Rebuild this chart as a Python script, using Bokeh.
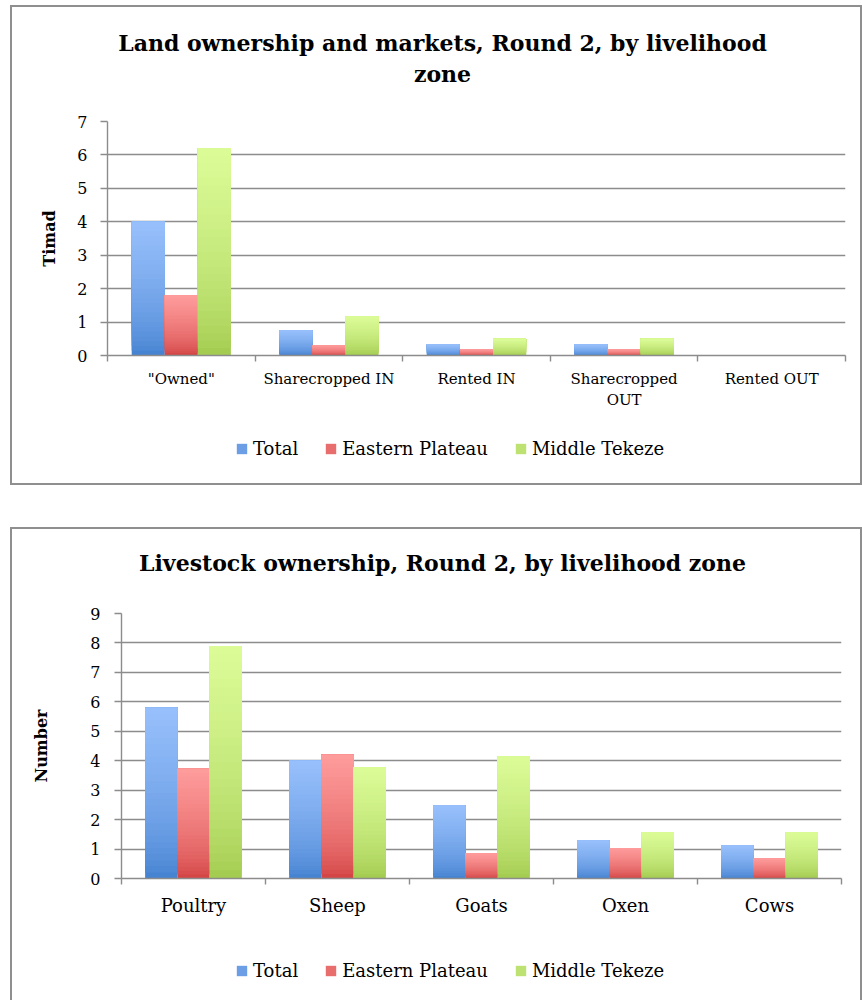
from bokeh.plotting import figure
from bokeh.models import (ColumnDataSource, FixedTicker, Legend, LegendItem, Label, Range1d)
from bokeh.embed import file_html
from bokeh.resources import INLINE

# ---------------- data ----------------
series_names = ["Total", "Eastern Plateau", "Middle Tekeze"]

land_title = ["Land ownership and markets, Round 2, by livelihood", "zone"]
land_ylabel = "Timad"
land_categories = ['"Owned"', "Sharecropped IN", "Rented IN", "Sharecropped\nOUT", "Rented OUT"]
land_total = [4.0, 0.75, 0.33, 0.33, 0.0]
land_eastern = [1.8, 0.3, 0.18, 0.18, 0.0]
land_middle = [6.2, 1.17, 0.5, 0.5, 0.0]
land_yticks = [0, 1, 2, 3, 4, 5, 6, 7]

stock_title = ["Livestock ownership, Round 2, by livelihood zone"]
stock_ylabel = "Number"
stock_categories = ["Poultry", "Sheep", "Goats", "Oxen", "Cows"]
stock_total = [5.8, 4.0, 2.48, 1.29, 1.12]
stock_eastern = [3.73, 4.2, 0.85, 1.04, 0.68]
stock_middle = [7.9, 3.77, 4.14, 1.56, 1.56]
stock_yticks = [0, 1, 2, 3, 4, 5, 6, 7, 8, 9]

# gradient colours (top, bottom) per series
grad_top = [(152, 192, 252), (255, 156, 156), (220, 252, 152)]
grad_bottom = [(62, 125, 205), (208, 62, 62), (158, 199, 74)]

FONT = "DejaVu Serif"
GRID = "#8c8c8c"
EDGE = "2px solid #8f8f8f"
K = 28  # gradient slices per bar
W = 852


def hexc(c):
    return "#%02x%02x%02x" % tuple(int(round(v)) for v in c)


def blank(h, styles):
    p = figure(width=W, height=h, output_backend="svg", toolbar_location=None,
               x_range=Range1d(0, 1), y_range=Range1d(0, 1),
               x_axis_type=None, y_axis_type=None,
               min_border=0, min_border_left=0, min_border_right=0,
               min_border_top=0, min_border_bottom=0,
               outline_line_color=None, background_fill_color="white",
               border_fill_color="white", styles=styles)
    p.grid.visible = False
    return p


def header(lines, h, baselines, cx, top_margin):
    p = blank(h, {"border": EDGE, "border-bottom": "none"})
    for line, y in zip(lines, baselines):
        p.add_layout(Label(x=cx, y=y, x_units="screen", y_units="screen", text=line,
                           text_align="center", text_baseline="alphabetic",
                           text_font=FONT, text_font_style="bold",
                           text_font_size="22px", text_color="black"))
    p.margin = (top_margin, 0, 0, 10)
    return p


def footer(h, loc, bottom_edge=True):
    styles = {"border": EDGE, "border-top": "none"}
    if not bottom_edge:
        styles = {"border-left": EDGE, "border-right": EDGE}
    p = blank(h, styles)
    items = []
    for s, name in enumerate(series_names):
        mid = [(a + b) / 2 for a, b in zip(grad_top[s], grad_bottom[s])]
        # zero-size placeholder renderer that only supplies the legend swatch colour
        r = p.vbar(x=[0], top=[0], bottom=[0], width=0, fill_color=hexc(mid), line_color=None)
        items.append(LegendItem(label=name, renderers=[r]))
    legend = Legend(items=items, orientation="horizontal", location=loc,
                    border_line_color=None, background_fill_alpha=0, padding=0,
                    margin=0, spacing=26, glyph_width=13, glyph_height=13,
                    label_standoff=5, label_text_font=FONT,
                    label_text_font_size="18px", label_text_color="black")
    p.add_layout(legend, "center")
    p.margin = (0, 0, 0, 10)
    return p


def chart(ylabel, cats, vals, yticks, h, bl, br, bt, bb, ylab_standoff,
          tick_standoff, cat_standoff, cat_size):
    n = len(cats)
    p = figure(width=W, height=h, output_backend="svg", toolbar_location=None,
               x_range=Range1d(0, n), y_range=Range1d(yticks[0], yticks[-1]),
               min_border_left=bl, min_border_right=br, min_border_top=bt,
               min_border_bottom=bb, outline_line_color=None,
               background_fill_color="white", border_fill_color="white",
               styles={"border-left": EDGE, "border-right": EDGE})
    p.margin = (0, 0, 0, 10)
    p.xgrid.visible = False
    p.ygrid.grid_line_color = GRID
    p.ygrid.grid_line_width = 1.4
    p.ygrid.ticker = FixedTicker(ticks=yticks)

    bw = 0.224
    offs = [-bw, 0.0, bw]
    for s, v in enumerate(vals):
        xs, bots, tops, cols = [], [], [], []
        for i, val in enumerate(v):
            for j in range(K):
                f = ((j + 0.5) / K) ** 0.6
                c = [grad_bottom[s][k] + (grad_top[s][k] - grad_bottom[s][k]) * f for k in range(3)]
                xs.append(i + 0.5 + offs[s])
                bots.append(val * j / K)
                tops.append(val)
                cols.append(hexc(c))
        src = ColumnDataSource(dict(x=xs, bottom=bots, top=tops, color=cols))
        p.vbar(x="x", bottom="bottom", top="top", width=bw, fill_color="color",
               line_color=None, source=src)

    ya = p.yaxis[0]
    ya.ticker = FixedTicker(ticks=yticks)
    ya.axis_line_color = GRID
    ya.axis_line_width = 1.4
    ya.major_tick_line_color = GRID
    ya.major_tick_line_width = 1.4
    ya.major_tick_out = 7
    ya.major_tick_in = 0
    ya.minor_tick_line_color = None
    ya.major_label_text_font = FONT
    ya.major_label_text_font_size = "16px"
    ya.major_label_text_color = "black"
    ya.major_label_standoff = tick_standoff
    ya.axis_label = ylabel
    ya.axis_label_text_font = FONT
    ya.axis_label_text_font_style = "bold"
    ya.axis_label_text_font_size = "16px"
    ya.axis_label_text_color = "black"
    ya.axis_label_standoff = ylab_standoff

    xa = p.xaxis[0]
    centers = [i + 0.5 for i in range(n)]
    xa.ticker = FixedTicker(ticks=centers, minor_ticks=list(range(n + 1)))
    xa.major_label_overrides = {c: lab for c, lab in zip(centers, cats)}
    xa.axis_line_color = GRID
    xa.axis_line_width = 1.4
    xa.major_tick_line_color = None
    xa.minor_tick_line_color = GRID
    xa.minor_tick_line_width = 1.4
    xa.minor_tick_out = 6
    xa.minor_tick_in = 0
    xa.major_label_text_font = FONT
    xa.major_label_text_font_size = cat_size
    xa.major_label_text_color = "black"
    xa.major_label_standoff = cat_standoff
    return p


# ---- top chart: land ----
top_head = header(land_title, 102, [67, 36], 430, 5)
top_chart = chart(land_ylabel, land_categories, [land_total, land_eastern, land_middle],
                  land_yticks, 308, 95, 19, 14, 60, 15, 13, 8, "15px")
top_foot = footer(70, (223, 26))

# ---- bottom chart: livestock ----
bot_head = header(stock_title, 62, [29], 430, 42)
bot_chart = chart(stock_ylabel, stock_categories, [stock_total, stock_eastern, stock_middle],
                  stock_yticks, 333, 109, 23, 24, 44, 36, 14, 10, "18px")
bot_foot = footer(78, (223, 19), bottom_edge=False)

roots = [top_head, top_chart, top_foot, bot_head, bot_chart, bot_foot]
open("out.html", "w").write(file_html(roots, INLINE))
